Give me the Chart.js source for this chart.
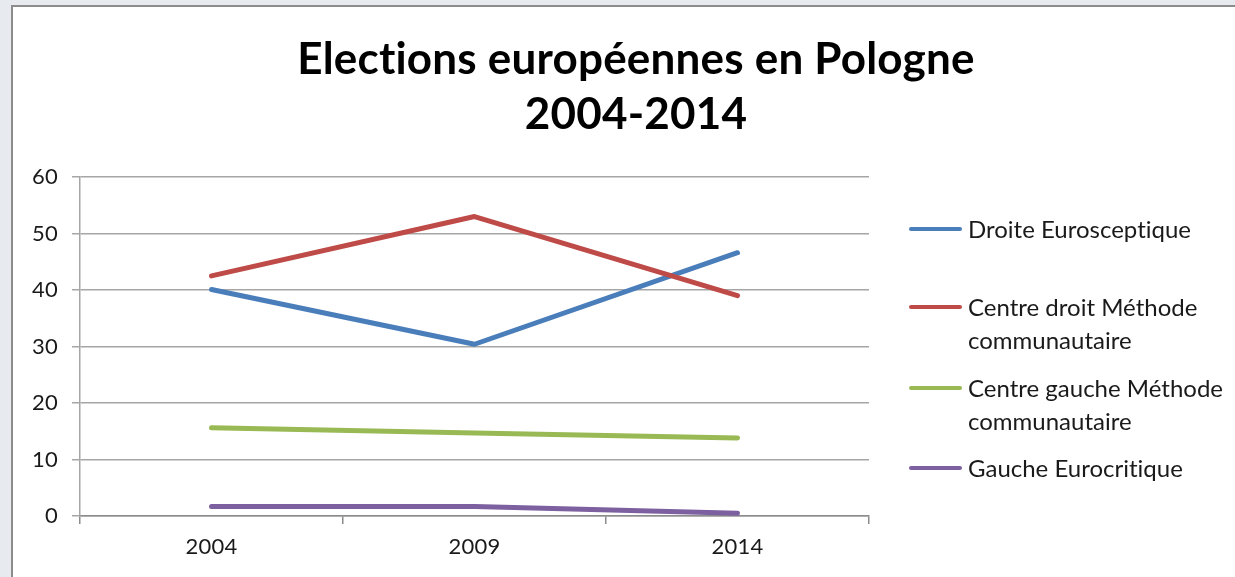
<!DOCTYPE html>
<html lang="fr">
<head>
<meta charset="utf-8">
<title>Elections européennes en Pologne 2004-2014</title>
<script src="https://cdn.jsdelivr.net/npm/chart.js@4.4.1/dist/chart.umd.min.js"></script>
<style>
  html, body { margin: 0; padding: 0; }
  body {
    width: 1235px; height: 577px; overflow: hidden; position: relative;
    background: #e7eaee;
    font-family: Lato, 'Liberation Sans', sans-serif;
  }
  #frame {
    position: absolute; left: 11px; top: 5px; width: 1260px; height: 600px;
    background: #fff; border: 2px solid #8c8c8c;
  }
  #chart { position: absolute; left: 0; top: 0; }
  #legend { position: absolute; left: 909px; top: 0; }
  .item { position: absolute; left: 0; display: flex; align-items: flex-start; }
  .swatch { width: 53px; height: 4.5px; border-radius: 2px; margin-top: 14.5px; margin-right: 6px; }
  .label {
    width: 280px; font-size: 24px; line-height: 33px; color: #1a1a1a;
    font-variant-ligatures: none;
  }
</style>
</head>
<body>
<div id="frame"></div>
<canvas id="chart" width="1272" height="577"></canvas>
<div id="legend"></div>

<script>
const FONT = "Lato, 'Liberation Sans', sans-serif";

const titleLines = ['Elections européennes en Pologne', '2004-2014'];
const years = ['2004', '2009', '2014'];
const yTicks = [0, 10, 20, 30, 40, 50, 60];

const seriesNames = [
  'Droite Eurosceptique',
  'Centre droit Méthode communautaire',
  'Centre gauche Méthode communautaire',
  'Gauche Eurocritique'
];
const droiteEurosceptique = [40.1, 30.4, 46.6];
const centreDroit = [42.5, 53.0, 39.0];
const centreGauche = [15.6, 14.7, 13.8];
const gaucheEurocritique = [1.7, 1.7, 0.5];

const seriesColors = ['#4a7ebb', '#be4b48', '#98b954', '#7d60a0'];
const legendTops = [212, 290, 371, 451];

const seriesValues = [droiteEurosceptique, centreDroit, centreGauche, gaucheEurocritique];

function buildLegend(){
  document.getElementById('legend').innerHTML = seriesNames.map((name, i) => `
    <div class="item" style="top:${legendTops[i]}px">
      <div class="swatch" style="background:${seriesColors[i]}"></div>
      <div class="label">${name}</div>
    </div>
  `).join('');
}

// a tiny letter spacing keeps Lato from joining "ti" into a ligature on the canvas
const noLigatures = {
  id: 'noLigatures',
  beforeInit(chart){ chart.ctx.letterSpacing = '0.2px'; },
  beforeDraw(chart){ chart.ctx.letterSpacing = '0.2px'; }
};

function renderChart(){
  const ctx = document.getElementById('chart');
  new Chart(ctx, {
    type: 'line',
    plugins: [noLigatures],
    data: {
      labels: years,
      datasets: seriesValues.map((values, i) => ({
        label: seriesNames[i],
        data: values,
        borderColor: seriesColors[i],
        backgroundColor: seriesColors[i],
        borderWidth: 5,
        borderCapStyle: 'round',
        borderJoinStyle: 'round',
        pointRadius: 0,
        pointHoverRadius: 0,
        tension: 0,
        // Excel draws later series on top
        order: seriesValues.length - i
      }))
    },
    options: {
      responsive: false,
      animation: false,
      events: [],
      layout: { padding: 0 },
      plugins: {
        legend: { display: false },
        tooltip: { enabled: false },
        title: {
          display: true,
          text: titleLines,
          color: '#000',
          font: { family: FONT, size: 44, weight: 'bold', lineHeight: '55px' },
          padding: { top: 32, bottom: 35 }
        }
      },
      scales: {
        x: {
          offset: true,
          grid: { offset: true, drawOnChartArea: false, tickLength: 8, color: '#8c8c8c', lineWidth: 1.5 },
          border: { color: '#8c8c8c', width: 1.5 },
          ticks: { color: '#1a1a1a', font: { family: FONT, size: 22 }, padding: 10, maxRotation: 0 },
          afterFit: s => { s.height = 61; }
        },
        y: {
          min: yTicks[0],
          max: yTicks[yTicks.length - 1],
          ticks: { stepSize: yTicks[1] - yTicks[0], color: '#1a1a1a', font: { family: FONT, size: 22 }, padding: 14 },
          grid: { color: '#a6a6a6', lineWidth: 1.5, tickLength: 8 },
          border: { color: '#a6a6a6', width: 1.5 },
          afterFit: s => { s.width = 80; }
        },
        // empty right-hand axis that keeps room for the legend
        side: {
          type: 'linear',
          position: 'right',
          grid: { display: false },
          border: { display: false },
          ticks: { display: false },
          afterFit: s => { s.width = 403; }
        }
      }
    }
  });
}

document.addEventListener('DOMContentLoaded', () => {
  buildLegend();
  renderChart();
});
</script>
</body>
</html>
